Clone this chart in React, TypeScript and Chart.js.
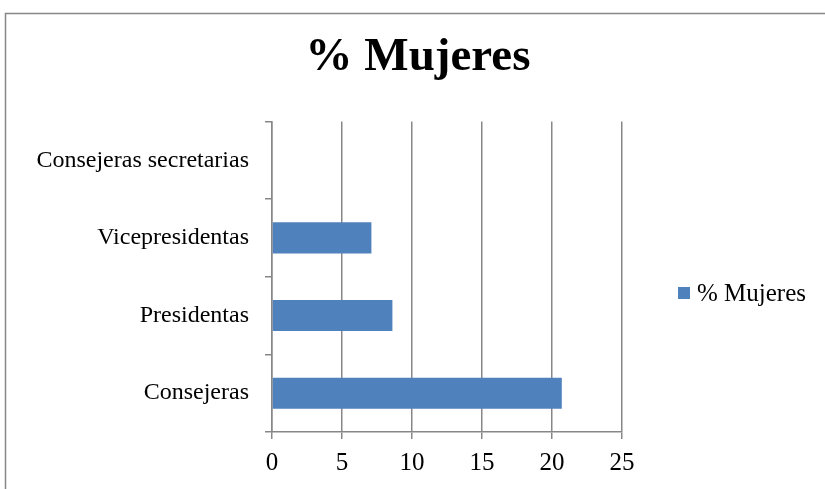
import React, { useEffect, useRef } from "react";
import { Chart, registerables } from "chart.js";

Chart.register(...registerables);

const categories = ["Consejeras secretarias", "Vicepresidentas", "Presidentas", "Consejeras"];
const seriesLabel = "% Mujeres";
const seriesValues = [0, 7.1, 8.6, 20.7];
const xTicks = [0, 5, 10, 15, 20, 25];

const GRAY = "#878787";
const BAR = "#4f81bd";
const FONT = "'Liberation Serif', 'Times New Roman', serif";

const framePlugin = {
  id: "frame",
  afterLayout(chart: any) {
    const t = chart.titleBlock;
    if (t) {
      t.left = 0;
      t.right = 836;
      t.width = 836;
    }
  },
  beforeDraw(chart: any) {
    const ctx = chart.ctx;
    ctx.save();
    ctx.fillStyle = "#ffffff";
    ctx.fillRect(0, 0, chart.width, chart.height);
    ctx.strokeStyle = GRAY;
    ctx.lineWidth = 1.5;
    ctx.strokeRect(5.5, 13.5, chart.width + 20, chart.height + 20);
    ctx.restore();
  },
};

const legendPlugin = {
  id: "sideLegend",
  afterDraw(chart: any) {
    const ctx = chart.ctx;
    const area = chart.chartArea;
    const ds = chart.data.datasets[0];
    const x = area.right + 56;
    const y = 293;
    ctx.save();
    ctx.fillStyle = ds.backgroundColor;
    ctx.fillRect(x, y - 6, 12, 12);
    ctx.fillStyle = "#000000";
    ctx.font = `25px ${FONT}`;
    ctx.textBaseline = "middle";
    ctx.textAlign = "left";
    ctx.fillText(ds.label, x + 19, y + 1);
    ctx.restore();
  },
};

export default function App() {
  const ref = useRef<HTMLCanvasElement | null>(null);

  useEffect(() => {
    if (!ref.current) return;
    Chart.defaults.font.family = FONT;
    const chart = new Chart(ref.current, {
      type: "bar",
      data: {
        labels: categories,
        datasets: [
          {
            label: seriesLabel,
            data: seriesValues,
            backgroundColor: BAR,
            borderWidth: 0,
            categoryPercentage: 1,
            barPercentage: 0.4,
          },
        ],
      },
      options: {
        indexAxis: "y",
        responsive: false,
        animation: false,
        devicePixelRatio: 1,
        layout: { padding: { left: 0, top: 14, right: 203, bottom: 0 } },
        plugins: {
          legend: { display: false },
          tooltip: { enabled: false },
          title: {
            display: true,
            text: "% Mujeres",
            color: "#000000",
            font: { family: FONT, size: 47, weight: "bold", lineHeight: 1.2 },
            padding: { top: 16, bottom: 35 },
          },
        },
        scales: {
          x: {
            type: "linear",
            min: 0,
            max: 25,
            afterBuildTicks: (scale: any) => {
              scale.ticks = xTicks.map((v) => ({ value: v }));
            },
            afterFit: (scale: any) => {
              scale.height = 57;
            },
            ticks: {
              color: "#000000",
              font: { family: FONT, size: 25 },
              padding: 9,
              maxRotation: 0,
            },
            grid: {
              color: GRAY,
              lineWidth: 1.5,
              tickLength: 7,
              drawOnChartArea: true,
              drawTicks: true,
            },
            border: { display: true, color: GRAY, width: 1.5 },
          },
          y: {
            type: "category",
            offset: true,
            afterFit: (scale: any) => {
              scale.width = 272;
            },
            ticks: {
              color: "#000000",
              font: { family: FONT, size: 24 },
              padding: 16,
            },
            grid: {
              offset: true,
              color: GRAY,
              lineWidth: 1.5,
              tickLength: 7,
              drawOnChartArea: false,
              drawTicks: true,
            },
            border: { display: true, color: GRAY, width: 1.5 },
          },
        },
      },
      plugins: [framePlugin, legendPlugin],
    });
    return () => chart.destroy();
  }, []);

  return (
    <div style={{ position: "absolute", left: 0, top: 0, width: 825, height: 489, background: "#fff" }}>
      <canvas ref={ref} width={825} height={489} style={{ display: "block" }} />
    </div>
  );
}
